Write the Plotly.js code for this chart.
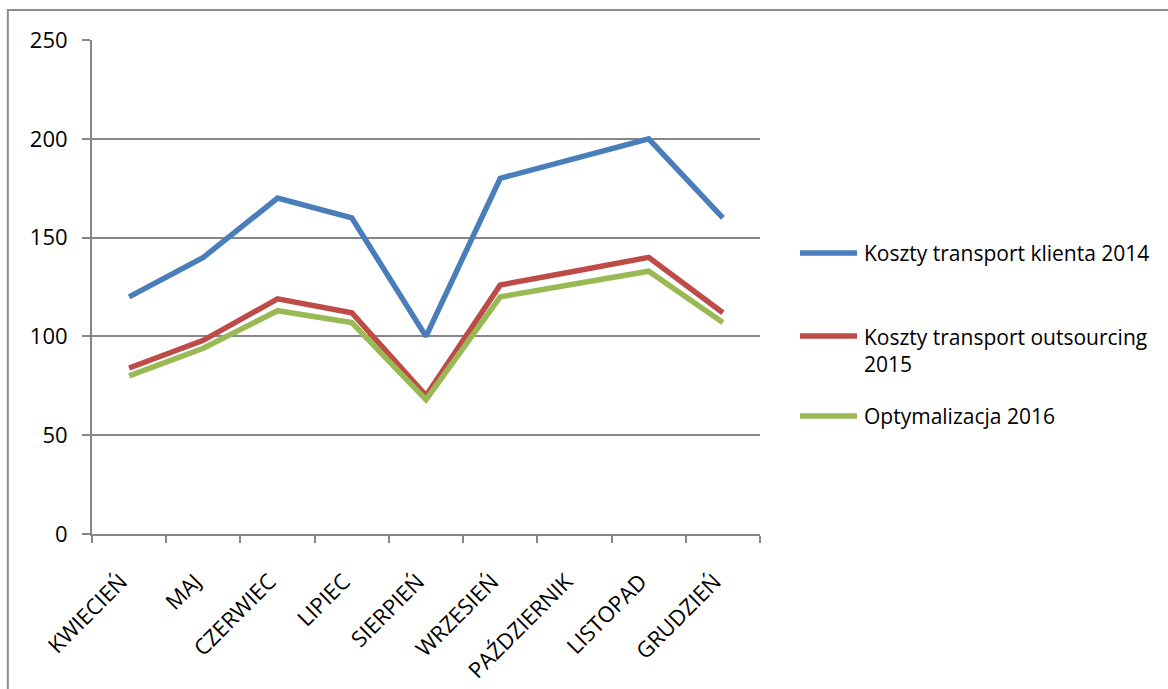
<!DOCTYPE html>
<html><head><meta charset="utf-8">
<script src="https://cdn.plot.ly/plotly-3.0.1.min.js"></script>
<style>html,body{margin:0;padding:0;background:#fff}#chart{width:1168px;height:689px}</style>
</head><body><div id="chart"></div>
<script>
const months = ["KWIECIEŃ","MAJ","CZERWIEC","LIPIEC","SIERPIEŃ","WRZESIEŃ","PAŹDZIERNIK","LISTOPAD","GRUDZIEŃ"];
const klient2014 = [120,140,170,160,100,180,190,200,160];
const outsourcing2015 = [84,98,119,112,70,126,133,140,112];
const optymalizacja2016 = [80,94,113,107,68,120,126.5,133,107];
const seriesNames = ["Koszty transport klienta 2014","Koszty transport outsourcing<br>2015","Optymalizacja 2016"];
const colors = ["#4A7EBB","#BE4B48","#98B954"];

const data = [klient2014, outsourcing2015, optymalizacja2016].map((vals,i)=>({
  x: months, y: vals, type:"scatter", mode:"lines", name: seriesNames[i],
  line:{color:colors[i], width:5.5}
}));

// custom legend (decoration) in paper coordinates
const legendY = [0.5688, 0.4008, 0.2389];
const legendTextY = [0.5688, 0.3715, 0.2389];
const shapes = [{type:"rect", xref:"paper", yref:"paper", x0:-0.126, x1:1.8, y0:-0.4, y1:1.0607,
           line:{color:"#8c8c8c", width:2}, fillcolor:"rgba(0,0,0,0)", layer:"below"}];
const annotations = [];
seriesNames.forEach((n,i)=>{
  shapes.push({type:"line", xref:"paper", yref:"paper", x0:1.0599, x1:1.1452, y0:legendY[i], y1:legendY[i],
    line:{color:colors[i], width:5.5}});
  annotations.push({xref:"paper", yref:"paper", x:1.1527, y:legendTextY[i], xanchor:"left", yanchor:"middle",
    align:"left", showarrow:false, text:n, font:{size:21, color:"#000"}});
});

const layout = {
  width:1168, height:689,
  margin:{l:92, r:408, t:40, b:155},
  paper_bgcolor:"#fff", plot_bgcolor:"#fff",
  font:{family:"Open Sans, Noto Sans, sans-serif", color:"#000"},
  showlegend:false,
  xaxis:{type:"category", showgrid:false, showline:true, linecolor:"#868686", linewidth:2,
         ticks:"outside", tickson:"boundaries", ticklen:7, tickcolor:"#868686", tickwidth:2,
         tickmode:"array", tickvals:months, ticktext:months.map(m=>m+"\u00a0\u00a0"),
         tickangle:-45, tickfont:{size:22}, range:[-0.5,8.5], fixedrange:true, ticklabelstandoff:16},
  yaxis:{range:[0,250], dtick:50, showgrid:true, gridcolor:"#868686", gridwidth:2,
         showline:true, linecolor:"#868686", linewidth:2, ticks:"outside", ticklen:8,
         tickcolor:"#868686", tickwidth:2, tickfont:{size:22}, zeroline:false, ticklabelstandoff:10},
  shapes: shapes,
  annotations: annotations
};
Plotly.newPlot("chart", data, layout, {displayModeBar:false, staticPlot:true});
</script></body></html>
